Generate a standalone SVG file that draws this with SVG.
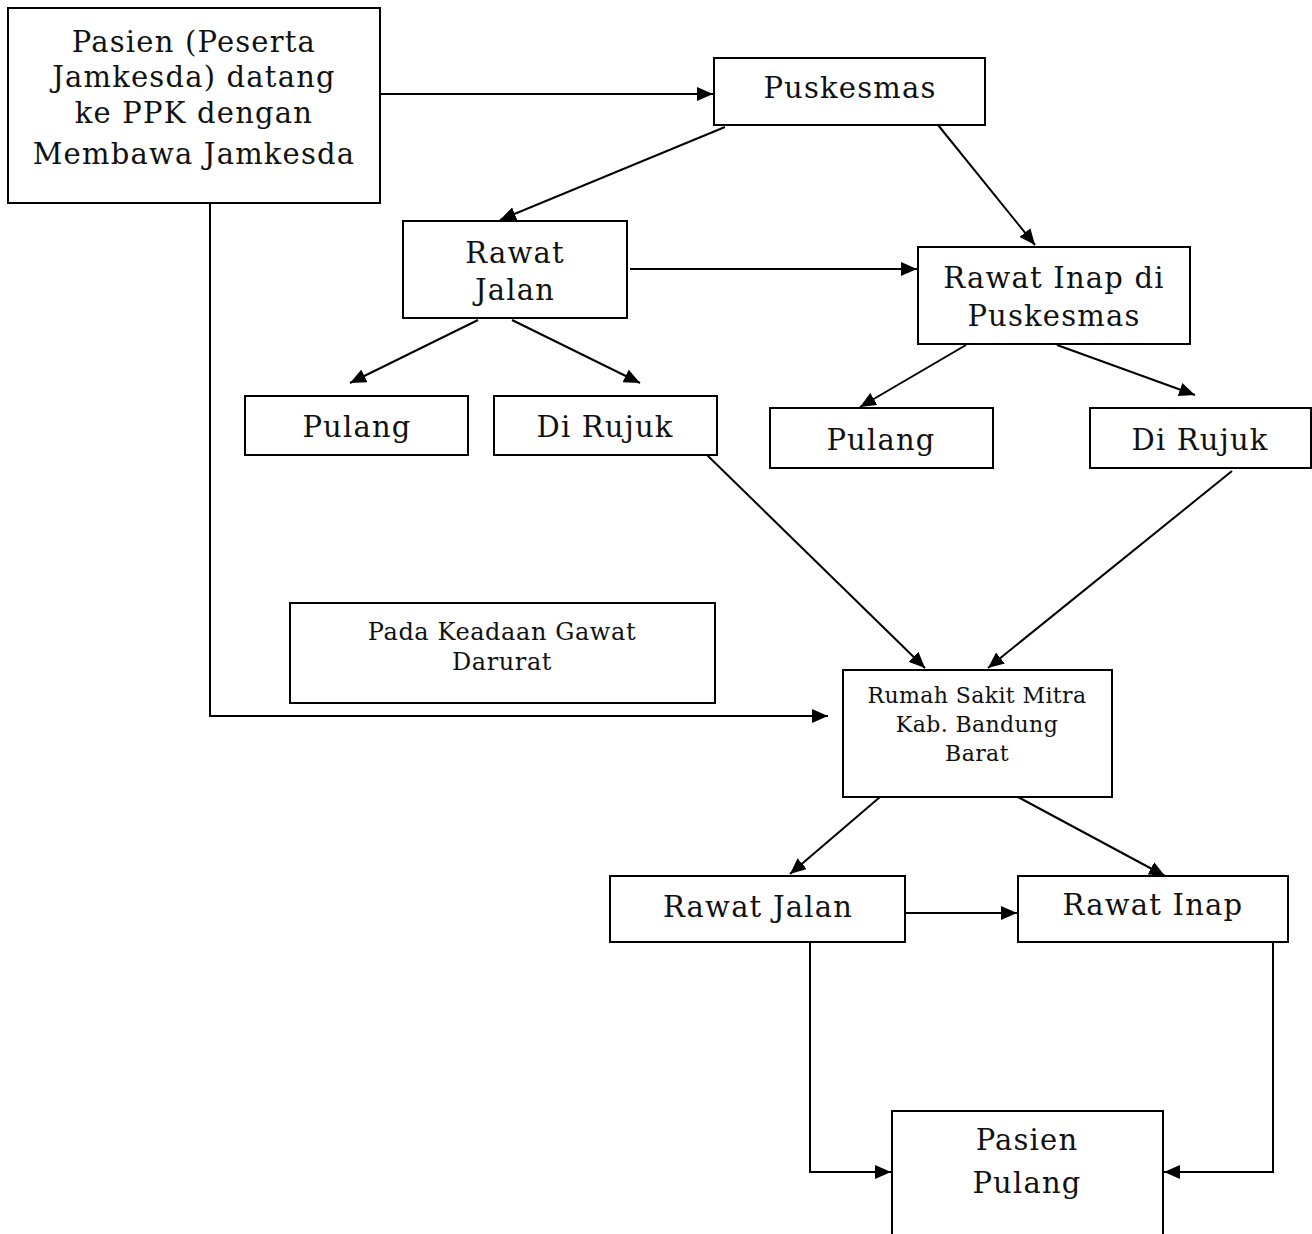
<svg xmlns="http://www.w3.org/2000/svg" width="1312" height="1234" viewBox="0 0 1312 1234">
<defs>
<style>
.box{fill:#fff;stroke:#000;stroke-width:2}
.t{font-family:"DejaVu Serif","Liberation Serif",serif;fill:#111;text-anchor:middle}
.L{font-size:29px;letter-spacing:1.2px}
.S{font-size:22px;letter-spacing:0.4px}
.P{font-size:24px;letter-spacing:0.6px}
.c{fill:none;stroke:#000;stroke-width:2}
</style>
<marker id="ah" viewBox="0 0 16 14" refX="16" refY="7" markerWidth="16" markerHeight="14" markerUnits="userSpaceOnUse" orient="auto">
<path d="M0,0 L16,7 L0,14 z" fill="#000"/>
</marker>
</defs>
<rect width="1312" height="1234" fill="#fff"/>
<g id="connectors">
<line class="c" x1="380" y1="94" x2="713" y2="94" marker-end="url(#ah)"/>
<line class="c" x1="725" y1="127" x2="500" y2="220" marker-end="url(#ah)"/>
<line class="c" x1="938" y1="125" x2="1035" y2="245" marker-end="url(#ah)"/>
<line class="c" x1="630" y1="269" x2="917" y2="269" marker-end="url(#ah)"/>
<line class="c" x1="478" y1="320" x2="350" y2="383" marker-end="url(#ah)"/>
<line class="c" x1="512" y1="320" x2="640" y2="383" marker-end="url(#ah)"/>
<line class="c" x1="966" y1="345" x2="860" y2="407" marker-end="url(#ah)"/>
<line class="c" x1="1057" y1="345" x2="1195" y2="395" marker-end="url(#ah)"/>
<line class="c" x1="707" y1="455" x2="925" y2="668" marker-end="url(#ah)"/>
<line class="c" x1="1232" y1="471" x2="988" y2="668" marker-end="url(#ah)"/>
<polyline class="c" points="210,203 210,716 828,716" marker-end="url(#ah)"/>
<line class="c" x1="880" y1="797" x2="790" y2="874" marker-end="url(#ah)"/>
<line class="c" x1="1018" y1="797" x2="1165" y2="876" marker-end="url(#ah)"/>
<line class="c" x1="905" y1="913" x2="1017" y2="913" marker-end="url(#ah)"/>
<polyline class="c" points="810,942 810,1172 891,1172" marker-end="url(#ah)"/>
<polyline class="c" points="1273,942 1273,1172 1164,1172" marker-end="url(#ah)"/>
</g>
<g id="n-pasien">
<rect class="box" x="8" y="8" width="372" height="195"/>
<text class="t L" x="194" y="52">Pasien (Peserta</text>
<text class="t L" x="194" y="87">Jamkesda) datang</text>
<text class="t L" x="194" y="123">ke PPK dengan</text>
<text class="t L" x="194" y="164">Membawa Jamkesda</text>
</g>
<g id="n-puskesmas">
<rect class="box" x="714" y="58" width="271" height="67"/>
<text class="t L" x="850" y="98">Puskesmas</text>
</g>
<g id="n-rawatjalan1">
<rect class="box" x="403" y="221" width="224" height="97"/>
<text class="t L" x="515" y="263">Rawat</text>
<text class="t L" x="515" y="300">Jalan</text>
</g>
<g id="n-rawatinap1">
<rect class="box" x="918" y="247" width="272" height="97"/>
<text class="t L" x="1054" y="288">Rawat Inap di</text>
<text class="t L" x="1054" y="326">Puskesmas</text>
</g>
<g id="n-pulang1">
<rect class="box" x="245" y="396" width="223" height="59"/>
<text class="t L" x="357" y="437">Pulang</text>
</g>
<g id="n-dirujuk1">
<rect class="box" x="494" y="396" width="223" height="59"/>
<text class="t L" x="605" y="437">Di Rujuk</text>
</g>
<g id="n-pulang2">
<rect class="box" x="770" y="408" width="223" height="60"/>
<text class="t L" x="881" y="450">Pulang</text>
</g>
<g id="n-dirujuk2">
<rect class="box" x="1090" y="408" width="221" height="60"/>
<text class="t L" x="1200" y="450">Di Rujuk</text>
</g>
<g id="n-gawat">
<rect class="box" x="290" y="603" width="425" height="100"/>
<text class="t P" x="502" y="640">Pada Keadaan Gawat</text>
<text class="t P" x="502" y="670">Darurat</text>
</g>
<g id="n-rs">
<rect class="box" x="843" y="670" width="269" height="127"/>
<text class="t S" x="977" y="703">Rumah Sakit Mitra</text>
<text class="t S" x="977" y="732">Kab. Bandung</text>
<text class="t S" x="977" y="761">Barat</text>
</g>
<g id="n-rawatjalan2">
<rect class="box" x="610" y="876" width="295" height="66"/>
<text class="t L" x="758" y="917">Rawat Jalan</text>
</g>
<g id="n-rawatinap2">
<rect class="box" x="1018" y="876" width="270" height="66"/>
<text class="t L" x="1153" y="915">Rawat Inap</text>
</g>
<g id="n-pasienpulang">
<path class="box" d="M892,1234 V1111 H1163 V1234"/>
<text class="t L" x="1027" y="1150">Pasien</text>
<text class="t L" x="1027" y="1193">Pulang</text>
</g>
</svg>
